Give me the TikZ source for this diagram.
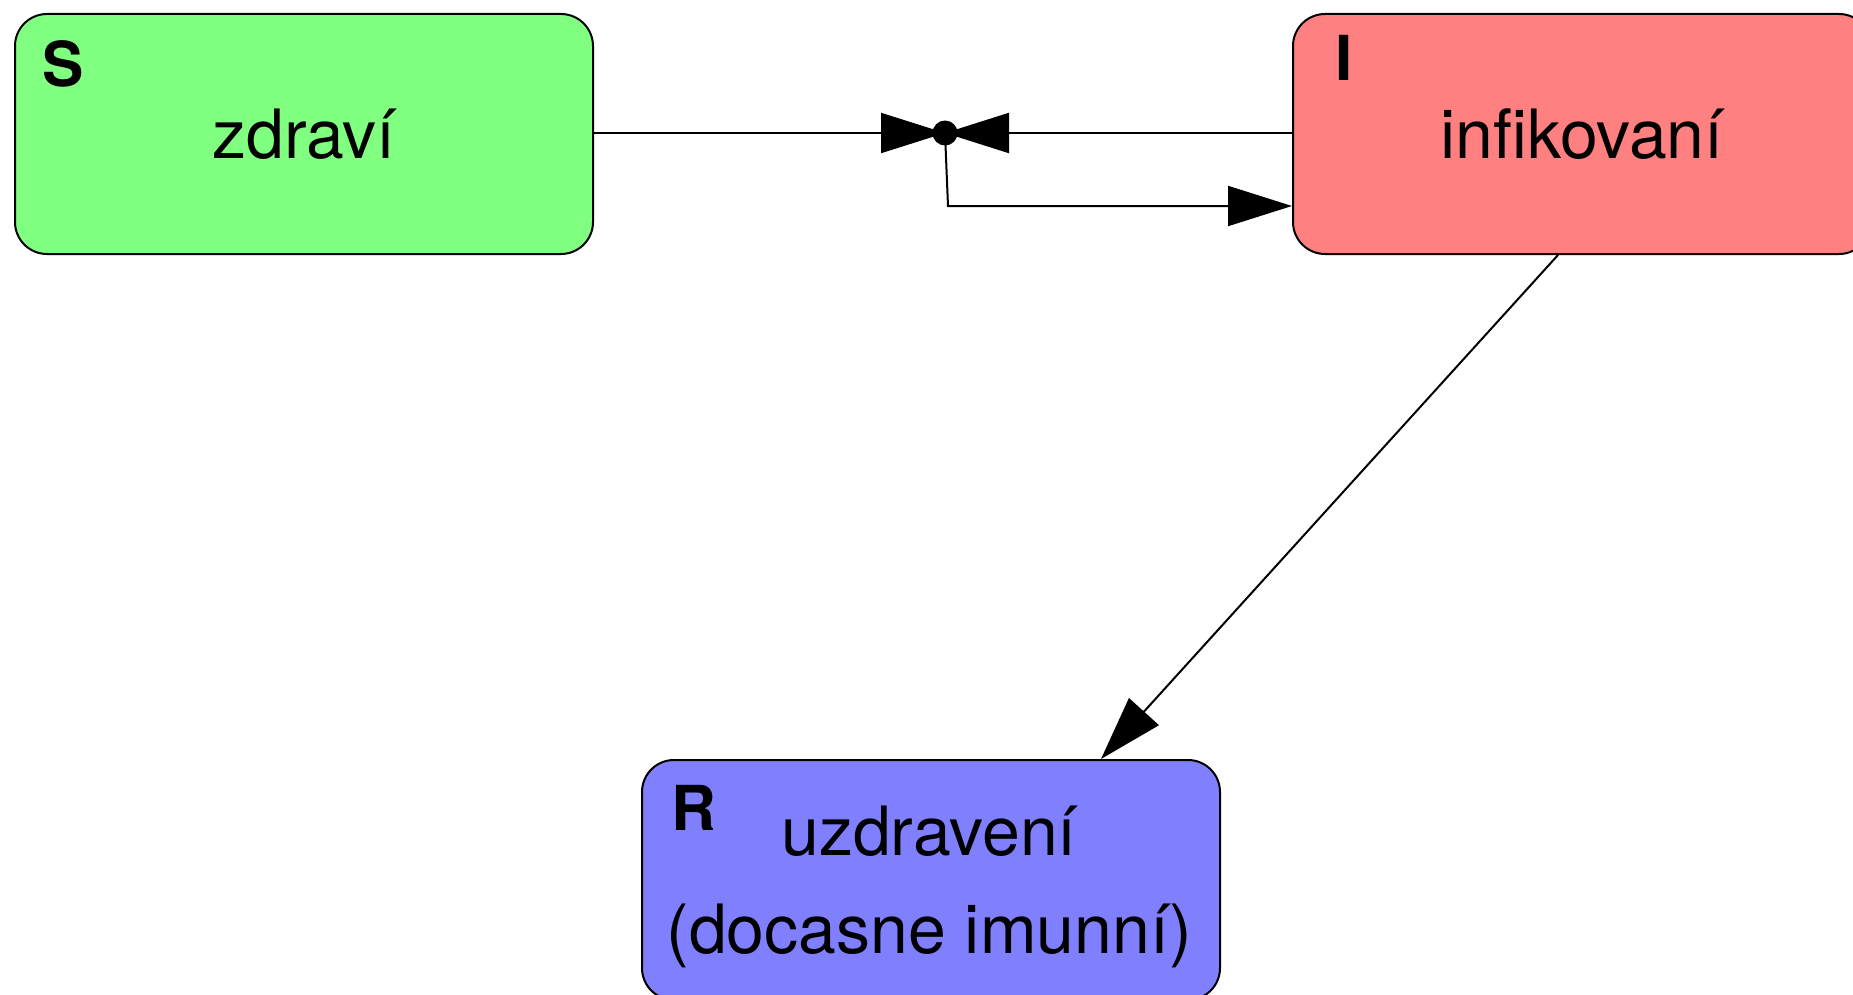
\documentclass[tikz,border=0pt]{standalone}
\usepackage{fontspec}
\setmainfont{TeX Gyre Heros}
\usetikzlibrary{arrows.meta,calc}
\tikzset{
  compartment/.style={draw=black, line width=1pt, rounded corners=16pt,
    minimum width=289pt, minimum height=120pt, inner sep=0pt, align=center,
    font=\fontsize{34}{49}\selectfont},
  boxtext/.style={inner sep=0pt, align=center, font=\fontsize{34}{49}\selectfont},
  tag/.style={inner sep=0pt, font=\fontsize{31}{31}\selectfont\bfseries},
  flow/.style={line width=1pt, -{Triangle[length=32pt,width=20pt]}},
  junction/.style={circle, fill=black, minimum size=12.5pt, inner sep=0pt}
}
\definecolor{sgreen}{HTML}{80FF80}
\definecolor{ired}{HTML}{FF8080}
\definecolor{rblue}{HTML}{8080FF}
\begin{document}
\begin{tikzpicture}[x=0.5pt, y=-0.5pt]
  \useasboundingbox (0,0) rectangle (1853,995);
  \clip (0,0) rectangle (1853,995);

  % compartments
  \node[compartment, fill=sgreen] (S) at (304,134) {zdraví};
  \node[compartment, fill=ired]   (I) at (1582,134) {infikovaní};
  \node[compartment, fill=rblue]  (R) at (931,880) {};
  \node[boxtext] (Rtext) at (929,887) {uzdravení\\(docasne imunní)};

  % compartment letters
  \node[tag] (Slab) at (63,64) {S};
  \node[tag] (Ilab) at (1344,58) {I};
  \node[tag] (Rlab) at (694,808) {R};

  % infection junction
  \coordinate (J) at (945,133);
  \coordinate (K) at (948,206);
  \draw[flow] (S.east |- J) -- (J);
  \draw[flow] (I.west |- J) -- (J);
  \draw[flow] (J) -- (K) -- (K -| I.west);
  \node[junction] (Jdot) at (J) {};

  % recovery
  \draw[flow] ([xshift=-12pt]I.south) -- ([xshift=85pt]R.north);
\end{tikzpicture}
\end{document}
